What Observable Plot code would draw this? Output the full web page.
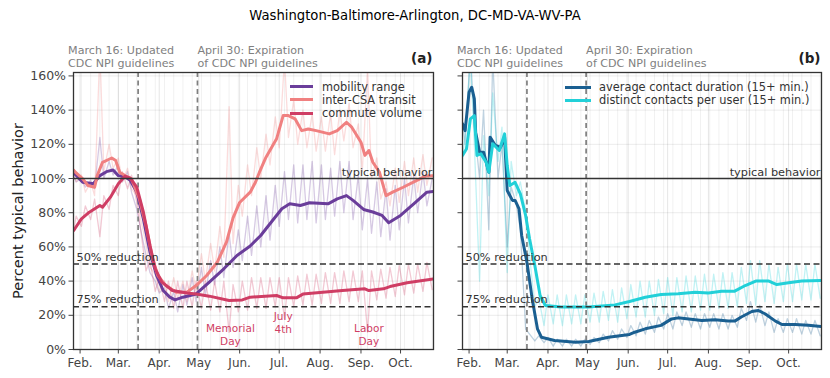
<!DOCTYPE html>
<html>
<head>
<meta charset="utf-8">
<script src="https://cdn.jsdelivr.net/npm/d3@7"></script>
<script src="https://cdn.jsdelivr.net/npm/@observablehq/plot@0.6"></script>
<style>
  body { margin: 0; background: #fff; font-family: "DejaVu Sans", sans-serif; }
  #wrap { position: relative; width: 830px; height: 378px; overflow: hidden; background: #fff; }
  #title { position: absolute; left: 0; top: 7.5px; width: 830px; text-align: center; font-size: 13.2px; line-height: 16px; color: #000; }
  .panel { position: absolute; top: 0; }
  .legend { position: absolute; font-size: 11.4px; color: #333; }
  .legend .row { display: flex; align-items: center; white-space: nowrap; }
  .legend .sw { display: inline-block; height: 3px; }
</style>
</head>
<body>
<div id="wrap">
  <div id="title"></div>
  <div id="left" class="panel" style="left:0px"></div>
  <div id="right" class="panel" style="left:440px"></div>
  <div id="legLeft" class="legend" style="left:290px; top:80px"></div>
  <div id="legRight" class="legend" style="left:565px; top:81px"></div>
</div>
<script>
// ---------------- data ----------------
const TITLE = "Washington-Baltimore-Arlington, DC-MD-VA-WV-PA";
const xStart = "1-27", xEnd = "10-26";
const yTicks = [0, 20, 40, 60, 80, 100, 120, 140, 160];
const monthTicks = ["2-1", "3-1", "4-1", "5-1", "6-1", "7-1", "8-1", "9-1", "10-1"];
const monthLabels = ["Feb.", "Mar.", "Apr.", "May", "Jun.", "Jul.", "Aug.", "Sep.", "Oct."];

const eventDates = ["3-16", "4-30"];
const eventLabels = ["March 16: Updated\nCDC NPI guidelines", "April 30: Expiration\nof CDC NPI guidelines"];
const holidayDates = ["5-25", "7-4", "9-7"];
const holidayLabels = ["Memorial\nDay", "July\n4th", "Labor\nDay"];
const refValues = [100, 50, 25];
const refLabels = ["typical behavior", "50% reduction", "75% reduction"];

// (a) smoothed series
const mobilitySmooth = [["1-27",103],["1-28",102.7],["2-3",97.8],["2-11",96.9],["2-16",101.7],["2-21",104],["2-26",105],["3-1",101.7],["3-6",101],["3-10",99],["3-15",92],["3-20",76.4],["3-25",56.9],["3-30",43.3],["4-4",34.5],["4-9",30.6],["4-13",29],["4-19",30.6],["4-29",32.5],["5-9",39.4],["5-20",47.2],["5-30",55],["6-9",60.5],["6-17",66.7],["6-21",70.6],["7-3",82.3],["7-9",85.2],["7-17",84.2],["7-24",85.8],["8-7",85.2],["8-14",88.1],["8-21",90],["8-26",87.2],["9-3",81.9],["9-10",80.4],["9-17",78.4],["9-22",74.1],["10-1",78.4],["10-11",85.2],["10-21",92],["10-26",92.4]];
const transitSmooth = [["1-27",105],["1-28",104],["2-3",99.8],["2-7",95.9],["2-12",94.9],["2-14",101.7],["2-18",109.5],["2-25",112],["2-28",110.5],["3-2",103.7],["3-6",101.7],["3-11",99.8],["3-17",88.1],["3-22",72.5],["3-27",53],["3-31",43.3],["4-6",37.4],["4-14",33.5],["4-22",33.5],["4-29",37.4],["5-7",43.3],["5-15",51],["5-22",62.8],["5-27",77],["6-1",86],["6-9",92],["6-13",97.8],["6-16",103.7],["6-21",112.5],["6-29",123.2],["7-4",136.8],["7-8",136.8],["7-13",134.9],["7-18",128],["7-23",129],["7-29",128],["8-8",126.1],["8-14",128],["8-21",132.9],["8-25",130],["9-1",121.2],["9-4",113.5],["9-7",116.4],["9-10",109.5],["9-15",103.7],["9-20",90],["9-25",92],["10-3",94.9],["10-13",98.8],["10-20",101.4],["10-26",101.7]];
const commuteSmooth = [["1-27",69.5],["1-28",70.6],["2-2",76.4],["2-8",80.3],["2-16",84.2],["2-18",83.2],["2-24",89.1],["3-1",96.9],["3-6",101.4],["3-10",100.2],["3-15",94.9],["3-20",80.3],["3-25",60.8],["3-29",47.2],["4-3",39.4],["4-11",34.5],["4-22",33],["4-29",32.5],["5-9",31.2],["5-24",28.7],["6-3",29],["6-9",30.6],["6-29",31.6],["7-4",30.2],["7-14",30.2],["7-19",32.4],["8-3",33.5],["8-18",34.5],["9-4",35.5],["9-7",34.5],["9-18",35.5],["9-23",36.8],["10-6",39],["10-26",41.3]];

// (a) raw values, sampled on Sundays and Wednesdays from Jan 26 to Oct 25
const mobilityRaw = [104,98,100,95,99,94,124,100,110,102, 108,98,104,92,82,70,55,45,40,33, 36,24,34,22,38,26,42,28,48,32, 52,38,60,42,68,48,70,52,78,55, 84,60,90,64,96,72,104,76,108,74, 108,76,110,74,108,76,106,78,110,80, 110,76,102,70,100,68,98,66,94,64, 96,70,100,74,102,80,104,84,100];
const transitRaw = [106,98,102,92,98,90,175,104,120,106, 112,98,106,94,90,76,62,48,44,34, 40,28,42,30,40,28,46,34,56,40, 62,46,72,54,142,62,96,78,108,90, 118,100,126,108,136,118,170,124,146,120, 140,118,138,116,136,116,138,114,140,122, 144,118,132,104,165,100,112,88,98,84, 106,86,110,90,112,92,114,96,112];
const commuteRaw = [65,78,72,84,76,88,66,90,82,96, 90,104,94,102,86,70,46,52,34,42, 28,40,24,40,24,40,25,40,24,40, 23,40,22,40,10,38,22,40,23,42, 24,42,24,42,25,42,18,42,25,43, 26,44,26,44,27,45,27,45,27,46, 28,46,28,46,10,46,29,47,30,48, 31,49,32,50,33,50,34,51,35];

// (b) smoothed series
const durationSmooth = [["1-27",132],["1-29",128],["2-1",150.5],["2-3",153.4],["2-5",146.6],["2-6",127.1],["2-9",115.4],["2-12",115.4],["2-16",103.7],["2-17",124.2],["2-21",119.3],["2-25",118.3],["2-28",124.2],["3-1",93],["3-5",87.2],["3-7",87.2],["3-10",82.3],["3-12",66.7],["3-16",51],["3-20",29.6],["3-24",12.1],["3-27",7.2],["4-6",5.3],["4-22",4.3],["5-2",4.7],["5-17",7.2],["6-2",8.8],["6-6",10.1],["6-14",12.1],["6-26",14.1],["7-4",17.9],["7-9",18.5],["7-17",17.9],["7-27",17],["8-6",17.4],["8-16",16.6],["8-21",16.6],["8-26",19],["9-3",22.2],["9-8",22.8],["9-13",20.9],["9-21",16.6],["9-26",14.6],["10-6",14.6],["10-16",14.2],["10-26",13.4]];
const contactsSmooth = [["1-27",113.5],["1-30",117.3],["2-2",134.9],["2-5",136.8],["2-7",113.5],["2-10",114.4],["2-14",109.5],["2-16",103.7],["2-19",120.3],["2-24",116.4],["2-28",126.1],["3-1",107.6],["3-3",95.9],["3-7",97.8],["3-11",91],["3-15",78.4],["3-18",64.7],["3-22",49.1],["3-26",31.6],["3-30",25.7],["4-11",24.8],["5-2",24.8],["5-22",26.1],["6-2",28.1],["6-14",30.6],["6-26",32.2],["7-9",32.6],["7-22",33.5],["8-1",33.1],["8-11",34.1],["8-21",34.1],["8-29",37.4],["9-6",40],["9-16",40],["9-22",38],["10-1",39],["10-11",40],["10-26",40.4]];

// (b) raw values, sampled on Sundays and Wednesdays from Jan 26 to Oct 25
const durationRaw = [140,120,175,130,100,140,70,170,100,120, 60,95,85,70,12,9,5,8,4,7, 2,6,2,6,2,6,2,6,3,7, 4,9,5,11,6,12,7,14,8,16, 9,17,10,19,12,21,12,22,14,22, 13,21,12,21,13,21,12,21,12,20, 13,24,17,28,16,26,14,22,10,18, 10,18,10,18,9,17,9,17,8];
const contactsRaw = [105,125,170,120,40,125,90,150,110,130, 45,110,90,98,80,55,25,30,14,32, 15,32,14,32,15,32,15,32,16,33, 16,34,17,35,16,36,18,38,19,40, 19,40,20,41,21,42,20,42,22,43, 22,43,23,44,23,44,24,45,24,45, 25,48,27,52,26,52,28,50,27,48, 28,50,28,50,29,50,29,50,30];

const colors = {
  mobility: "#6a3d9a", transit: "#f08080", commute: "#cf3d64",
  duration: "#1a5f91", contacts: "#22d0d8"
};

// ---------------- helpers ----------------
const parse = s => { const [m, d] = s.split("-").map(Number); return new Date(Date.UTC(2020, m - 1, d)); };
const toRows = pairs => pairs.map(([d, v]) => ({date: parse(d), value: v}));
const rawDates = d3.sort([
  ...d3.utcSunday.range(parse("1-26"), parse("10-26")),
  ...d3.utcWednesday.range(parse("1-26"), parse("10-26"))
], d => +d);
const rawRows = vals => vals.map((v, i) => ({date: rawDates[i], value: v}));

const monthDates = monthTicks.map(parse);
const monthLabelMap = new Map(monthDates.map((d, i) => [+d, monthLabels[i]]));
const weekGrid = d3.utcSunday.range(parse(xStart), parse(xEnd));
const events = eventDates.map((d, i) => ({date: parse(d), label: eventLabels[i]}));
const holidays = holidayDates.map((d, i) => ({date: parse(d), label: holidayLabels[i]}));
const refs = refValues.map((v, i) => ({value: v, label: refLabels[i]}));

function panel({width, marginLeft, marginRight, series, tag, yLabels, holidaysOn}) {
  const marks = [
    Plot.ruleX(weekGrid, {stroke: "#000", strokeOpacity: 0.06}),
    Plot.ruleX(monthDates, {stroke: "#000", strokeOpacity: 0.1}),
    Plot.ruleY(yTicks, {stroke: "#000", strokeOpacity: 0.08}),
    ...series.map(s => Plot.line(s.raw, {x: "date", y: "value", stroke: s.color, strokeOpacity: 0.28, strokeWidth: 1.3, clip: true})),
    Plot.ruleX(events, {x: "date", stroke: "#7f7f7f", strokeWidth: 1.7, strokeDasharray: "5,3.5"}),
    ...series.map(s => Plot.line(s.smooth, {x: "date", y: "value", stroke: s.color, strokeWidth: 3, clip: true, strokeLinejoin: "round", strokeLinecap: "round"})),
    Plot.ruleY(refs.filter(r => r.value === 100), {y: "value", stroke: "#333", strokeWidth: 1.3}),
    Plot.ruleY(refs.filter(r => r.value !== 100), {y: "value", stroke: "#333", strokeWidth: 1.6, strokeDasharray: "6,3.5"}),
    Plot.text(refs.filter(r => r.value === 100), {y: "value", text: "label", frameAnchor: "right", textAnchor: "end", lineAnchor: "bottom", dx: -1, dy: -3, fill: "#333", fontSize: 11.3}),
    Plot.text(refs.filter(r => r.value !== 100), {y: "value", text: "label", frameAnchor: "left", textAnchor: "start", lineAnchor: "bottom", dx: 3, dy: -3.5, fill: "#333", fontSize: 11.3}),
    Plot.text(events.slice(0, 1), {x: "date", text: "label", frameAnchor: "top", textAnchor: "start", lineAnchor: "bottom", dx: -70, dy: -6, lineHeight: 1.16, fill: "#808080", fontSize: 11.1}),
    Plot.text(events.slice(1, 2), {x: "date", text: "label", frameAnchor: "top", textAnchor: "start", lineAnchor: "bottom", dx: 0, dy: -6, lineHeight: 1.16, fill: "#808080", fontSize: 11.1}),
    Plot.text([tag], {frameAnchor: "top-right", textAnchor: "end", lineAnchor: "bottom", dx: -1, dy: -10, fontWeight: "bold", fontSize: 13.5, fill: "#222"}),
    Plot.axisX(monthDates, {tickFormat: d => monthLabelMap.get(+d), tickSize: 4.5, tickPadding: 4, fontSize: 12, label: null}),
    Plot.axisY(yTicks, {tickFormat: yLabels ? (d => d + "%") : (() => ""), tickSize: 4.5, tickPadding: 3, fontSize: 12.5, label: null}),
    Plot.frame({stroke: "#333", strokeWidth: 1.3})
  ];
  if (holidaysOn) {
    marks.push(
      Plot.text(holidays.filter((h, i) => i !== 1), {x: "date", text: "label", frameAnchor: "bottom", lineAnchor: "bottom", dy: -5, lineHeight: 1.15, fill: colors.commute, fontSize: 10.5}),
      Plot.text(holidays.filter((h, i) => i === 1), {x: "date", text: "label", frameAnchor: "bottom", lineAnchor: "bottom", dy: -17, lineHeight: 1.15, fill: colors.commute, fontSize: 10.5}),
      Plot.text(["Percent typical behavior"], {frameAnchor: "left", dx: -55, rotate: -90, textAnchor: "middle", fontSize: 14.5, fill: "#222"})
    );
  }
  return Plot.plot({
    width, height: 378,
    marginLeft, marginRight, marginTop: 72, marginBottom: 29,
    style: {fontFamily: "DejaVu Sans", fontSize: "12px", color: "#444", background: "transparent", overflow: "visible"},
    x: {type: "utc", domain: [parse(xStart), parse(xEnd)], label: null},
    y: {domain: [0, 162], label: null},
    marks
  });
}

document.getElementById("title").textContent = TITLE;

const leftSeries = [
  {name: "mobility range", color: colors.mobility, smooth: toRows(mobilitySmooth), raw: rawRows(mobilityRaw)},
  {name: "inter-CSA transit", color: colors.transit, smooth: toRows(transitSmooth), raw: rawRows(transitRaw)},
  {name: "commute volume", color: colors.commute, smooth: toRows(commuteSmooth), raw: rawRows(commuteRaw)}
];
const rightSeries = [
  {name: "average contact duration (15+ min.)", color: colors.duration, smooth: toRows(durationSmooth), raw: rawRows(durationRaw)},
  {name: "distinct contacts per user (15+ min.)", color: colors.contacts, smooth: toRows(contactsSmooth), raw: rawRows(contactsRaw)}
];

document.getElementById("left").append(panel({width: 440, marginLeft: 73, marginRight: 7, series: leftSeries, tag: "(a)", yLabels: true, holidaysOn: true}));
document.getElementById("right").append(panel({width: 390, marginLeft: 22, marginRight: 9, series: rightSeries, tag: "(b)", yLabels: false, holidaysOn: false}));

function legend(el, series, swWidth, gap, rowH) {
  for (const s of series) {
    const row = document.createElement("div");
    row.className = "row";
    row.style.height = rowH + "px";
    const sw = document.createElement("span");
    sw.className = "sw";
    sw.style.width = swWidth + "px";
    sw.style.background = s.color;
    sw.style.marginRight = gap + "px";
    const t = document.createElement("span");
    t.textContent = s.name;
    row.append(sw, t);
    el.append(row);
  }
}
legend(document.getElementById("legLeft"), leftSeries, 23, 9, 13.3);
legend(document.getElementById("legRight"), rightSeries, 26, 8, 12.8);
</script>
</body>
</html>
